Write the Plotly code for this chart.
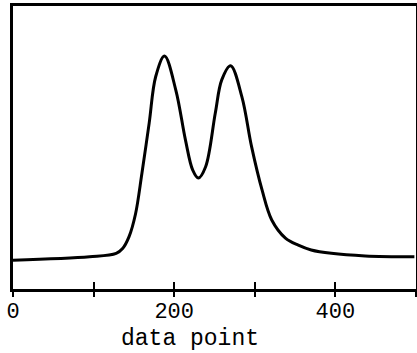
import plotly.graph_objects as go

# data (arbitrary intensity units)
data_point = [0, 95, 128, 136, 144, 152, 160, 169, 177, 188, 202, 214, 223, 230,
              239, 251, 259, 270, 284, 296, 309, 321, 338, 354, 370, 395, 437, 498]
intensity = [10.2, 11.4, 12.6, 14.3, 18.5, 26.5, 41.0, 58.7, 75.0, 82.3, 70.3, 52.6, 42.0, 39.2,
             43.2, 62.2, 73.9, 78.9, 67.9, 50.3, 35.0, 24.4, 18.0, 15.5,
             13.8, 12.6, 11.7, 11.4]

tick_vals = [0, 100, 200, 300, 400, 500]
tick_text = ["0", "", "200", "", "400", ""]
x_title = "data point"

fig = go.Figure()
fig.add_trace(go.Scatter(x=data_point, y=intensity, mode="lines",
                         line=dict(color="black", width=3, shape="spline", smoothing=1.0),
                         showlegend=False, hoverinfo="skip"))
# invisible trace on second x axis for the outer half of the crossing ticks
fig.add_trace(go.Scatter(x=[0, 500], y=[0, 0], xaxis="x2", mode="lines",
                         line=dict(width=0), showlegend=False, hoverinfo="skip"))

font_mono = "Liberation Mono, Courier New, monospace"
fig.update_layout(
    width=417, height=353,
    margin=dict(l=13, r=1, t=6, b=64, autoexpand=False),
    paper_bgcolor="white", plot_bgcolor="white",
    xaxis=dict(range=[0, 500], showgrid=False, zeroline=False, automargin=False,
               showline=True, linecolor="black", linewidth=3, mirror=True,
               ticks="inside", ticklen=7, tickwidth=2, tickcolor="black",
               tickvals=tick_vals, ticktext=tick_text,
               tickfont=dict(family=font_mono, size=22, color="black")),
    xaxis2=dict(range=[0, 500], overlaying="x", side="bottom", showgrid=False, zeroline=False,
                automargin=False, showline=False, ticks="outside", ticklen=7, tickwidth=2,
                tickcolor="black", tickvals=tick_vals, showticklabels=False, matches="x"),
    yaxis=dict(range=[0, 100], showgrid=False, zeroline=False, showticklabels=False,
               automargin=False, ticks="", showline=True, linecolor="black", linewidth=3,
               mirror=True),
    annotations=[dict(text=x_title, x=220, xref="x", y=-0.178, yref="paper",
                      xanchor="center", yanchor="middle", showarrow=False,
                      font=dict(family=font_mono, size=23, color="black"))],
)

fig.write_html("out.html")
